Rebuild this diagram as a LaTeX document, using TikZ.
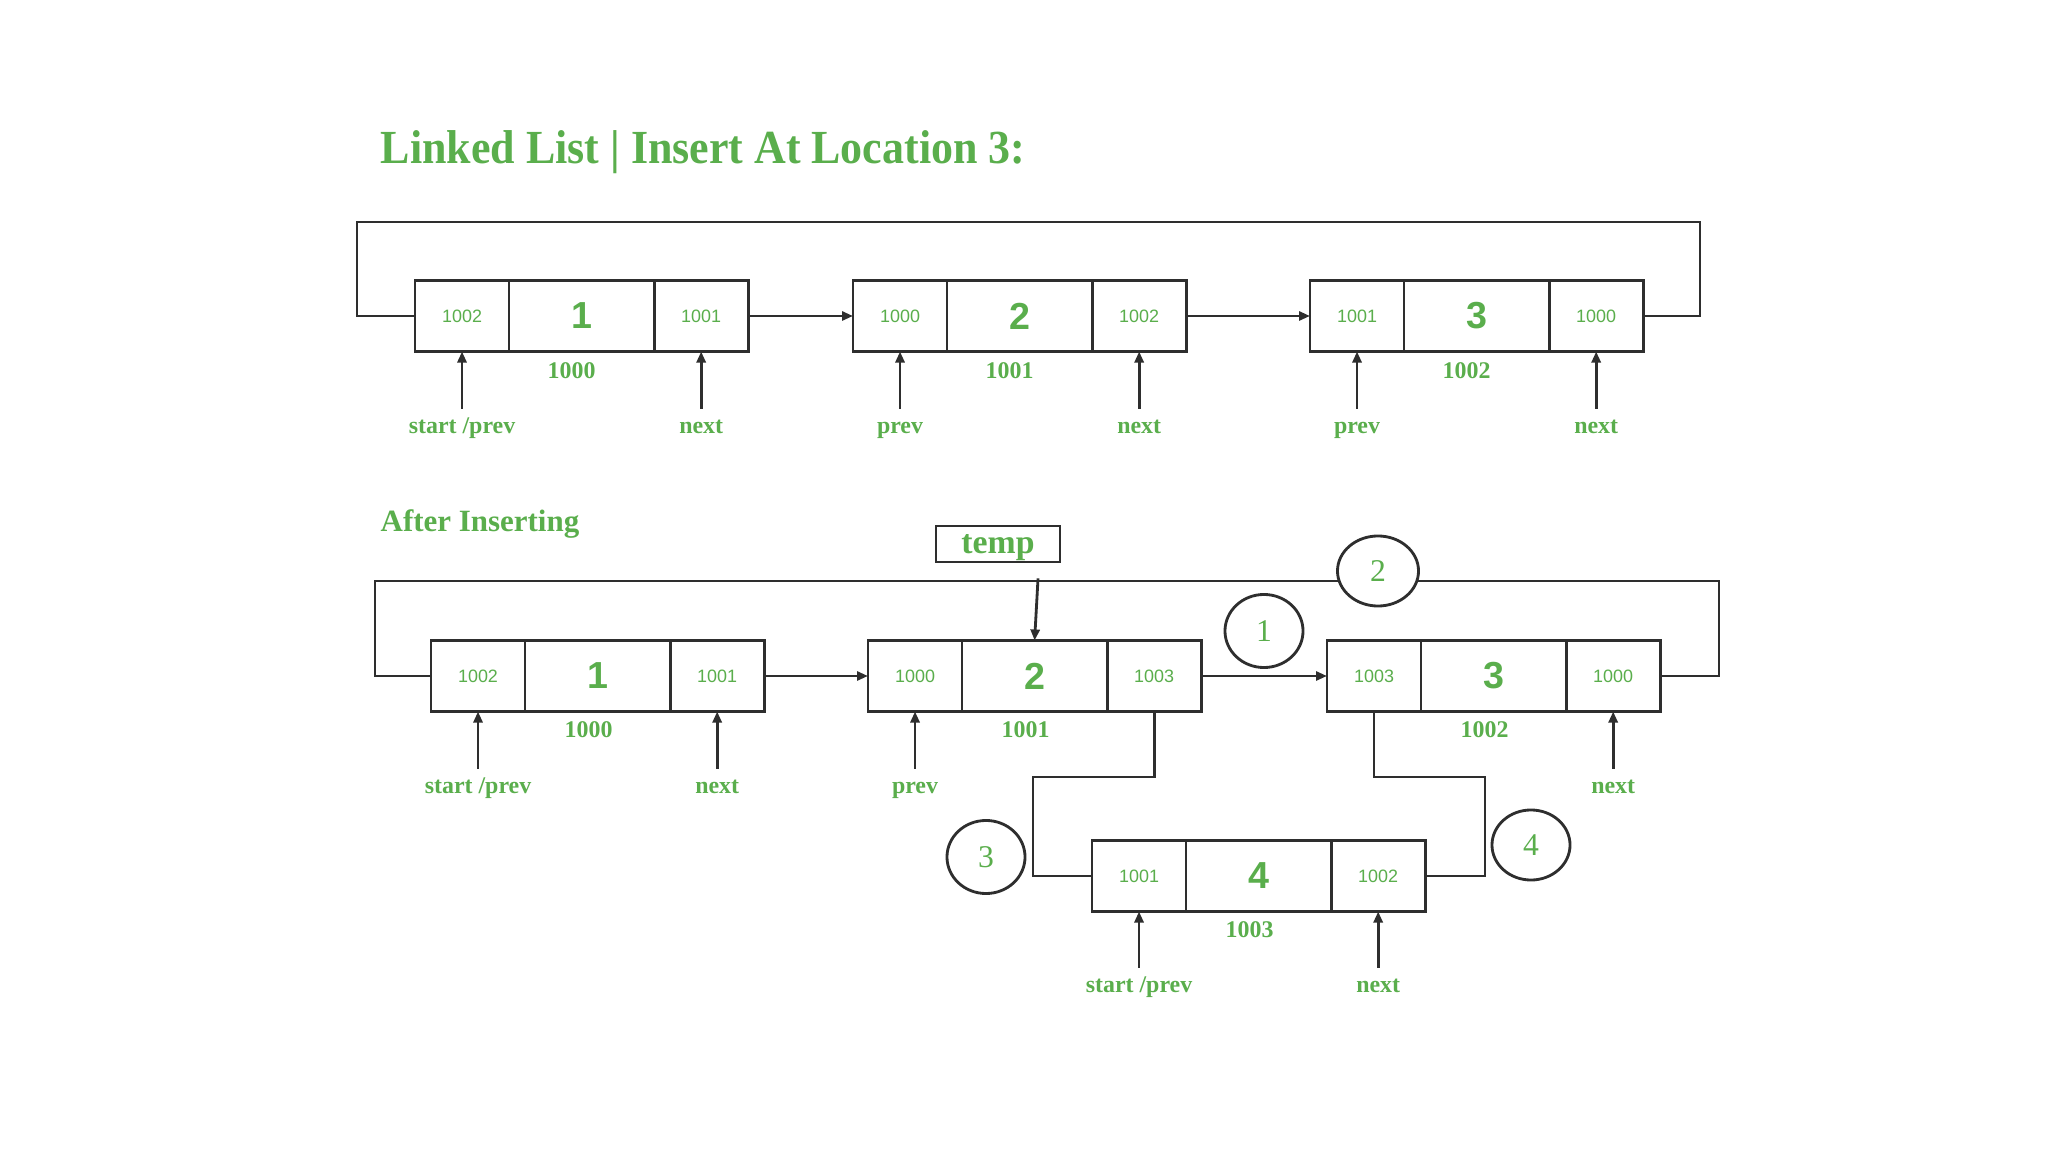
\documentclass[tikz,border=0pt]{standalone}
\usepackage{fontspec}
\setmainfont{Liberation Serif}
\setsansfont{Liberation Sans}
\usetikzlibrary{arrows.meta,calc,shapes.geometric}
\definecolor{gfg}{HTML}{5AAE4C}
\definecolor{ln}{HTML}{2E2E2E}
\tikzset{
  cellS/.style={draw=ln, line width=0.8pt, minimum width=0.94cm, minimum height=0.71cm, inner sep=0pt, outer sep=0pt, text=gfg, font=\sffamily\fontsize{5.1}{6}\selectfont},
  cellB/.style={cellS, minimum width=1.45cm, font=\sffamily\bfseries\fontsize{10.7}{12}\selectfont},
  lbl/.style={text=gfg, font=\bfseries\fontsize{6.8}{8}\selectfont, inner sep=0pt, text height=0.68em, text depth=0.22em},
  link/.style={draw=ln, line width=0.8pt},
  arr/.style={link, -{Triangle[length=1.1mm,width=0.9mm]}},
  stepnum/.style={ellipse, draw=ln, line width=0.8pt, fill=white, minimum width=0.8cm, minimum height=0.72cm, inner sep=0pt, text=gfg, font=\fontsize{9}{10}\selectfont},
}
\newcommand\LLnode[6]{%
  \node[cellS, anchor=west] (#1p) at (#2,#3) {#4};
  \node[cellB, anchor=west] (#1d) at (#1p.east) {#5};
  \node[cellS, anchor=west] (#1n) at (#1d.east) {#6};
}
\begin{document}
\begin{tikzpicture}[x=0.01cm, y=-0.01cm]
\fill[white] (0,0) rectangle (2048,1152);
\useasboundingbox (0,0) rectangle (2048,1152);

% title
\node[anchor=west, text=gfg, font=\bfseries\fontsize{12.5}{14}\selectfont, inner sep=0pt] (title) at (380,152) {\scalebox{1}[1.08]{Linked List | Insert At Location 3:}};

% ---------- top list ----------
\LLnode{t1}{415}{316}{1002}{1}{1001}
\LLnode{t2}{853}{316}{1000}{2}{1002}
\LLnode{t3}{1310}{316}{1001}{3}{1000}
\draw[arr] (t1n.east) -- (t2p.west);
\draw[arr] (t2n.east) -- (t3p.west);
\coordinate (tR) at (1700,222);
\coordinate (tL) at (357,222);
\draw[link] (t3n.east) -| (tR) -- (tL) |- (t1p.west);

\node[lbl] (t1a) at ($(t1d.south)+(-10,19)$) {1000};
\node[lbl] (t2a) at ($(t2d.south)+(-10,19)$) {1001};
\node[lbl] (t3a) at ($(t3d.south)+(-10,19)$) {1002};

\node[lbl] (t1s) at ($(t1p.south)+(0,74)$) {start /prev};
\node[lbl] (t1x) at ($(t1n.south)+(0,74)$) {next};
\node[lbl] (t2s) at ($(t2p.south)+(0,74)$) {prev};
\node[lbl] (t2x) at ($(t2n.south)+(0,74)$) {next};
\node[lbl] (t3s) at ($(t3p.south)+(0,74)$) {prev};
\node[lbl] (t3x) at ($(t3n.south)+(0,74)$) {next};
\foreach \a/\b in {t1s/t1p, t1x/t1n, t2s/t2p, t2x/t2n, t3s/t3p, t3x/t3n}
  \draw[arr] (\a.north) -- (\b.south);

% ---------- after inserting ----------
\node[anchor=west, text=gfg, font=\bfseries\fontsize{8.8}{10}\selectfont, inner sep=0pt] (after) at (380,524) {After Inserting};

\LLnode{b1}{431}{676}{1002}{1}{1001}
\LLnode{b2}{868}{676}{1000}{2}{1003}
\LLnode{b3}{1327}{676}{1003}{3}{1000}
\LLnode{b4}{1092}{876}{1001}{4}{1002}

\draw[arr] (b1n.east) -- (b2p.west);
\draw[arr] (b2n.east) -- (b3p.west);
\coordinate (bR) at (1719,581);
\coordinate (bL) at (375,581);
\draw[link] (b3n.east) -| (bR) -- (bL) |- (b1p.west);

\coordinate (m1) at (1033,777);
\coordinate (m2) at (1485,777);
\draw[link] (b2n.south) |- (m1) |- (b4p.west);
\draw[link] (b3p.south) |- (m2) |- (b4n.east);

\node[draw=ln, line width=0.8pt, minimum width=1.24cm, minimum height=0.36cm, inner sep=0pt, text depth=0pt, text=gfg, font=\bfseries\fontsize{9.6}{10}\selectfont] (temp) at (998,544) {temp};
\draw[arr] ([xshift=0.4cm,yshift=-0.15cm]temp.south) -- (b2d.north);

\node[lbl] (b1a) at ($(b1d.south)+(-9,18)$) {1000};
\node[lbl] (b2a) at ($(b2d.south)+(-9,18)$) {1001};
\node[lbl] (b3a) at ($(b3d.south)+(-9,18)$) {1002};
\node[lbl] (b4a) at ($(b4d.south)+(-9,18)$) {1003};

\node[lbl] (b1s) at ($(b1p.south)+(0,74)$) {start /prev};
\node[lbl] (b1x) at ($(b1n.south)+(0,74)$) {next};
\node[lbl] (b2s) at ($(b2p.south)+(0,74)$) {prev};
\node[lbl] (b3x) at ($(b3n.south)+(0,74)$) {next};
\node[lbl] (b4s) at ($(b4p.south)+(0,73)$) {start /prev};
\node[lbl] (b4x) at ($(b4n.south)+(0,73)$) {next};
\foreach \a/\b in {b1s/b1p, b1x/b1n, b2s/b2p, b3x/b3n, b4s/b4p, b4x/b4n}
  \draw[arr] (\a.north) -- (\b.south);

% step circles
\node[stepnum, minimum width=0.81cm, minimum height=0.70cm] (c2) at (1378,571) {2};
\node[stepnum, minimum width=0.78cm, minimum height=0.73cm] (c1) at (1264,631) {1};
\node[stepnum, minimum width=0.78cm, minimum height=0.73cm] (c3) at (986,857) {3};
\node[stepnum, minimum width=0.78cm, minimum height=0.70cm] (c4) at (1531,845) {4};
\end{tikzpicture}
\end{document}
